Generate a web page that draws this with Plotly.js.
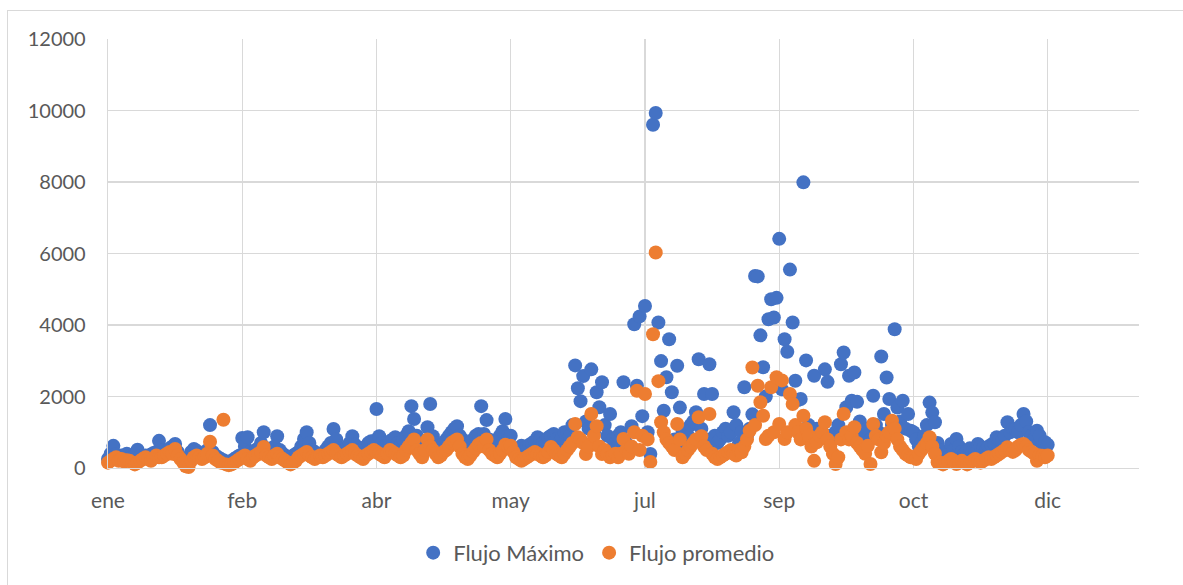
<!DOCTYPE html>
<html><head><meta charset="utf-8">
<script src="https://cdn.plot.ly/plotly-3.0.1.min.js"></script>
<style>
html,body{margin:0;padding:0;background:#fff;overflow:hidden}
#chart{position:absolute;left:0;top:0;width:1183px;height:585px}
#frame{position:absolute;left:7px;top:10px;width:1200px;height:600px;border:1px solid #d9d9d9;pointer-events:none;z-index:5}
</style></head>
<body><div id="chart"></div><div id="frame"></div>
<script>
const startDate = '2019-01-01';
const tickText = ['ene','feb','abr','may','jul','sep','oct','dic'];
const tickStepDays = 50;
const rangeDays = 384;
const seriesNames = ['Flujo Máximo','Flujo promedio'];
const seriesColors = ['#4472C4','#ED7D31'];

const flujoMaximo = [
250,400,620,380,300,350,280,400,320,300,
360,510,320,280,350,300,380,420,450,760,
500,420,480,550,600,670,450,300,200,180,
200,450,530,480,420,300,400,500,1200,450,
350,300,250,220,180,150,200,250,300,350,
840,600,860,450,400,500,550,700,1000,550,
450,500,600,890,500,400,350,300,280,350,
400,450,600,810,1000,700,500,450,400,350,
400,500,600,700,1090,800,550,450,500,600,
700,890,650,500,450,550,600,700,750,750,
1650,890,700,600,650,750,800,860,700,650,
800,900,1030,1730,1370,900,800,700,750,1140,
1790,890,700,600,650,700,800,900,1000,1100,
1170,900,800,700,650,700,800,900,950,1730,
950,1340,800,700,750,800,900,1030,1370,900,
900,500,350,400,620,500,600,650,700,750,
860,800,700,750,850,900,950,800,700,850,
1000,1000,900,1200,2870,2230,1870,2570,1300,1100,
2760,1000,2120,1700,2400,1200,900,1510,800,700,
900,1000,2400,700,600,1170,4020,2300,4240,1450,
4530,1000,390,9600,9930,4070,2990,1600,2540,3600,
2120,800,2860,1690,1000,700,900,1200,1300,1560,
3040,1100,2070,800,2900,2070,900,700,800,1000,
1100,900,1000,1560,1200,700,1000,2260,900,1100,
1500,5370,5360,3710,2820,2000,4160,4720,4210,4760,
6410,2200,3600,3250,5550,4070,2440,1900,1930,7990,
3010,1200,1000,2580,1100,900,1000,2760,2410,900,
800,1000,1200,2900,3230,1700,2580,1880,2670,1850,
1300,1000,900,1100,800,2020,1200,1000,3120,1510,
2530,1930,1200,3880,1690,1300,1880,1100,1510,1040,
1000,800,600,700,900,1200,1830,1550,1280,700,
500,400,350,300,670,500,810,600,450,400,
480,550,450,500,670,600,550,500,600,650,
700,860,800,750,900,1280,1000,1100,1090,1000,
1200,1510,1300,1000,900,800,1040,900,600,720,
650
];

const flujoPromedio = [
150,200,250,300,200,250,180,220,200,150,
100,150,200,250,300,250,200,280,350,300,
300,350,400,450,400,530,350,250,150,50,
30,200,300,350,300,250,300,400,735,350,
250,200,150,1350,100,80,100,150,200,250,
300,350,250,200,300,350,400,450,590,350,
300,250,350,400,300,250,200,150,100,150,
200,300,350,400,450,350,300,250,300,350,
300,350,400,450,500,400,350,300,350,400,
450,500,400,350,300,250,350,400,450,500,
450,400,350,300,400,500,450,400,350,300,
350,500,600,700,800,500,400,300,500,800,
600,500,400,300,350,450,500,600,700,750,
800,600,400,300,250,350,450,550,650,700,
600,800,500,400,350,300,400,500,650,600,
620,450,300,250,200,250,300,350,400,450,
400,350,300,350,450,590,500,400,350,300,
400,500,600,700,1230,860,800,700,390,600,
1510,900,1170,600,390,500,400,300,350,400,
300,400,810,500,400,600,1000,2160,500,900,
2070,800,170,3740,6030,2430,1280,1000,800,700,
610,500,1230,800,300,400,500,600,700,800,
1420,890,600,500,1510,400,300,250,300,350,
400,450,500,400,350,500,440,600,800,1040,
2810,1200,2300,1840,1460,810,900,2260,1000,2540,
1230,2450,810,1000,2070,1790,1200,1000,800,1460,
1100,900,600,200,720,900,1000,1280,800,600,
400,110,300,800,1510,1000,800,900,1140,700,
600,500,400,620,110,1230,900,800,440,700,
900,1000,1320,1100,800,600,500,400,350,300,
300,250,400,500,600,700,860,600,400,160,
150,100,150,200,250,200,110,150,200,150,
100,150,200,250,200,150,200,250,300,250,
300,350,400,450,500,580,500,450,500,600,
650,670,600,500,450,400,200,350,340,300,
350
];

function addDays(s, n) {
  const d = new Date(s + 'T00:00:00Z');
  d.setUTCDate(d.getUTCDate() + n);
  return d.toISOString().slice(0, 10);
}
const fechas = flujoMaximo.map((_, i) => addDays(startDate, i));
const tickVals = tickText.map((_, i) => addDays(startDate, i * tickStepDays));

const fam = 'Lato, "Open Sans", sans-serif';
const grey = '#595959';

const traces = [flujoMaximo, flujoPromedio].map((vals, k) => ({
  type: 'scatter', mode: 'markers', name: seriesNames[k],
  x: fechas, y: vals, cliponaxis: false,
  marker: {color: seriesColors[k], size: 14, line: {width: 0}}
}));

const layout = {
  width: 1183, height: 585,
  paper_bgcolor: 'rgba(0,0,0,0)', plot_bgcolor: 'rgba(0,0,0,0)',
  margin: {l: 108, r: 44, t: 39, b: 116},
  font: {family: fam, size: 20, color: grey},
  showlegend: true,
  xaxis: {
    type: 'date', range: [startDate, addDays(startDate, rangeDays)],
    tickmode: 'array', tickvals: tickVals, ticktext: tickText,
    showgrid: true, gridcolor: '#d9d9d9', gridwidth: 1.3,
    zeroline: false, showline: true, linecolor: '#d9d9d9', linewidth: 1.3,
    ticks: '', ticklabelstandoff: 13, tickfont: {family: fam, size: 21, color: grey}
  },
  yaxis: {
    range: [0, 12000], tick0: 0, dtick: 2000, tickformat: 'd',
    showgrid: true, gridcolor: '#d9d9d9', gridwidth: 1.3,
    zeroline: false, showline: true, linecolor: '#d9d9d9', linewidth: 1.3,
    ticks: '', ticklabelstandoff: 17, tickfont: {family: fam, size: 20, color: grey}
  },
  legend: {
    orientation: 'h', x: 0.296, xanchor: 'left', y: -0.195, yanchor: 'middle',
    font: {family: fam, size: 22, color: grey}, bgcolor: 'rgba(0,0,0,0)'
  }
};

Plotly.newPlot('chart', traces, layout, {staticPlot: true, displayModeBar: false});
</script>
</body></html>
